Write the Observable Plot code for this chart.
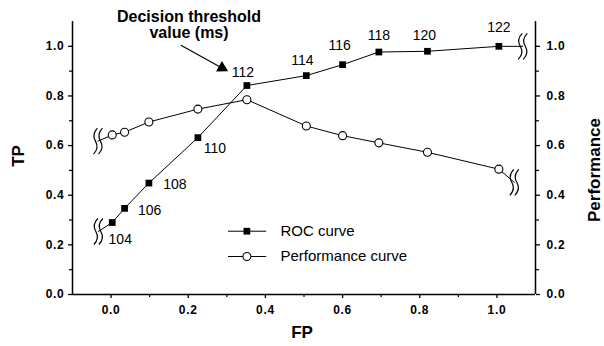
<!DOCTYPE html>
<html><head><meta charset="utf-8">
<script src="https://cdn.jsdelivr.net/npm/d3@7"></script>
<script src="https://cdn.jsdelivr.net/npm/@observablehq/plot@0.6"></script>
<style>
body{margin:0;background:#fff}
#chart svg{display:block}
#chart g[aria-label="x-axis tick label"] text,
#chart g[aria-label="y-axis tick label"] text{letter-spacing:0.7px}
</style></head><body><div id="chart"></div>
<script>
// ---- data ----
const thresholds = [104, 106, 108, 110, 112, 114, 116, 118, 120, 122];
const fp = [0.003, 0.035, 0.098, 0.225, 0.352, 0.506, 0.600, 0.694, 0.820, 1.005];
const tp = [0.290, 0.347, 0.449, 0.632, 0.842, 0.882, 0.926, 0.977, 0.980, 1.000];
const performance = [0.643, 0.654, 0.695, 0.747, 0.785, 0.679, 0.640, 0.611, 0.573, 0.505];
const rocBreakX = [-0.033, 1.067];
const rocBreakY = [0.254, 1.0];
const perfBreakX = [-0.034, 1.045];
const perfBreakY = [0.618, 0.452];
const majorTicks = [0, 0.2, 0.4, 0.6, 0.8, 1.0];
const minorTicks = [0.1, 0.3, 0.5, 0.7, 0.9];
const legendLabels = ["ROC curve", "Performance curve"];
const annotationText = "Decision threshold\nvalue (ms)";

// ---- layout (not data) ----
const labelOffsets = [[8,17],[25,2],[26,1],[17,11],[-4,-13],[-4,-15],[-3,-19],[0,-17],[-3,-16],[0,-19]];
const legendY = [0.255, 0.153];
const legendX1 = 0.303, legendX2 = 0.402, legendSym = 0.352, legendText = 0.439;
const arrowStart = {x: 0.181, y: 1.004}, arrowHead = {x: 0.2875, y: 0.913};
const annotPos = {x: 0.202, y: 1.085};

const idx = thresholds.map((_, i) => i);
const rocLine = [{x: rocBreakX[0], y: rocBreakY[0]}, ...idx.map(i => ({x: fp[i], y: tp[i]})), {x: rocBreakX[1], y: rocBreakY[1]}];
const perfLine = [{x: perfBreakX[0], y: perfBreakY[0]}, ...idx.map(i => ({x: fp[i], y: performance[i]})), {x: perfBreakX[1], y: perfBreakY[1]}];
const breaks = [0, 1].flatMap(i => [{x: rocBreakX[i], y: rocBreakY[i]}, {x: perfBreakX[i], y: perfBreakY[i]}]);

const breakSymbol = {
  draw(ctx) {
    for (const ox of [-2.5, 2.5]) {
      ctx.moveTo(ox + 2, -13);
      ctx.quadraticCurveTo(ox - 4, -7, ox, 0);
      ctx.quadraticCurveTo(ox + 4, 7, ox - 2, 13);
    }
  }
};

const font = "'Liberation Sans', Arial, Helvetica, sans-serif";
const f1 = d3.format(".1f");

const chart = Plot.plot({
  width: 604, height: 346,
  marginLeft: 72, marginRight: 69, marginTop: 21, marginBottom: 52,
  x: {domain: [-0.1, 1.1]},
  y: {domain: [0, 1.1]},
  style: {fontFamily: font, background: "white", color: "black", overflow: "visible"},
  marks: [
    // axis lines
    Plot.ruleX([-0.1, 1.1], {stroke: "black", strokeWidth: 1.5}),
    Plot.ruleY([0], {stroke: "black", strokeWidth: 1.5}),
    // axes
    Plot.axisX({ticks: majorTicks, tickSize: 4, tickPadding: 7, tickFormat: f1, label: null, fontSize: 12, fontWeight: "bold", strokeWidth: 1.3}),
    Plot.axisX({ticks: minorTicks, tickSize: 3, tickFormat: () => "", label: null, strokeWidth: 1.2}),
    Plot.axisY({anchor: "left", ticks: majorTicks, tickSize: 4, tickPadding: 4, tickFormat: f1, label: null, fontSize: 12, fontWeight: "bold", strokeWidth: 1.3}),
    Plot.axisY({anchor: "left", ticks: minorTicks, tickSize: 3, tickFormat: () => "", label: null, strokeWidth: 1.2}),
    Plot.axisY({anchor: "right", ticks: majorTicks, tickSize: 4, tickPadding: 7, tickFormat: f1, label: null, fontSize: 12, fontWeight: "bold", strokeWidth: 1.3}),
    Plot.axisY({anchor: "right", ticks: minorTicks, tickSize: 3, tickFormat: () => "", label: null, strokeWidth: 1.2}),
    // axis titles
    Plot.text(["TP"], {frameAnchor: "left", textAnchor: "middle", lineAnchor: "middle", dx: -54, dy: -2, rotate: -90, fontSize: 17, fontWeight: "bold"}),
    Plot.text(["FP"], {frameAnchor: "bottom", textAnchor: "middle", lineAnchor: "middle", dx: -2, dy: 38, fontSize: 17, fontWeight: "bold"}),
    Plot.text(["Performance"], {frameAnchor: "right", textAnchor: "middle", lineAnchor: "middle", dx: 59, dy: 12, rotate: -90, fontSize: 17, fontWeight: "bold", letterSpacing: "0.8px"}),
    // curves
    Plot.line(rocLine, {x: "x", y: "y", stroke: "black", strokeWidth: 1}),
    Plot.line(perfLine, {x: "x", y: "y", stroke: "black", strokeWidth: 1}),
    Plot.dot(breaks, {x: "x", y: "y", symbol: breakSymbol, fill: "none", stroke: "black", strokeWidth: 1.2, r: 5}),
    Plot.dot(idx, {x: i => fp[i], y: i => tp[i], symbol: "square", fill: "black", stroke: "none", r: 3.8}),
    Plot.dot(idx, {x: i => fp[i], y: i => performance[i], symbol: "circle", fill: "white", stroke: "black", strokeWidth: 1.1, r: 4}),
    // threshold labels
    ...idx.map(i => Plot.text([i], {x: i => fp[i], y: i => tp[i], text: i => String(thresholds[i]), dx: labelOffsets[i][0], dy: labelOffsets[i][1], fontSize: 14})),
    // annotation
    Plot.link([0], {x1: arrowStart.x, y1: arrowStart.y, x2: arrowHead.x, y2: arrowHead.y, stroke: "black", strokeWidth: 1.2}),
    Plot.dot([0], {x: arrowHead.x, y: arrowHead.y, symbol: "triangle", fill: "black", stroke: "none", r: 4.5, rotate: 119}),
    Plot.text([annotationText], {x: annotPos.x, y: annotPos.y, fontSize: 16, fontWeight: "bold", lineHeight: 1, letterSpacing: "0.8px"}),
    // legend
    Plot.link(legendLabels, {x1: legendX1, x2: legendX2, y1: (d, i) => legendY[i], y2: (d, i) => legendY[i], stroke: "black", strokeWidth: 1}),
    Plot.dot([legendLabels[0]], {x: legendSym, y: legendY[0], symbol: "square", fill: "black", stroke: "none", r: 3.8}),
    Plot.dot([legendLabels[1]], {x: legendSym, y: legendY[1], symbol: "circle", fill: "white", stroke: "black", strokeWidth: 1.1, r: 4}),
    Plot.text(legendLabels, {x: legendText, y: (d, i) => legendY[i], text: d => d, textAnchor: "start", fontSize: 15})
  ]
});
document.getElementById("chart").append(chart);
</script>
</body></html>
